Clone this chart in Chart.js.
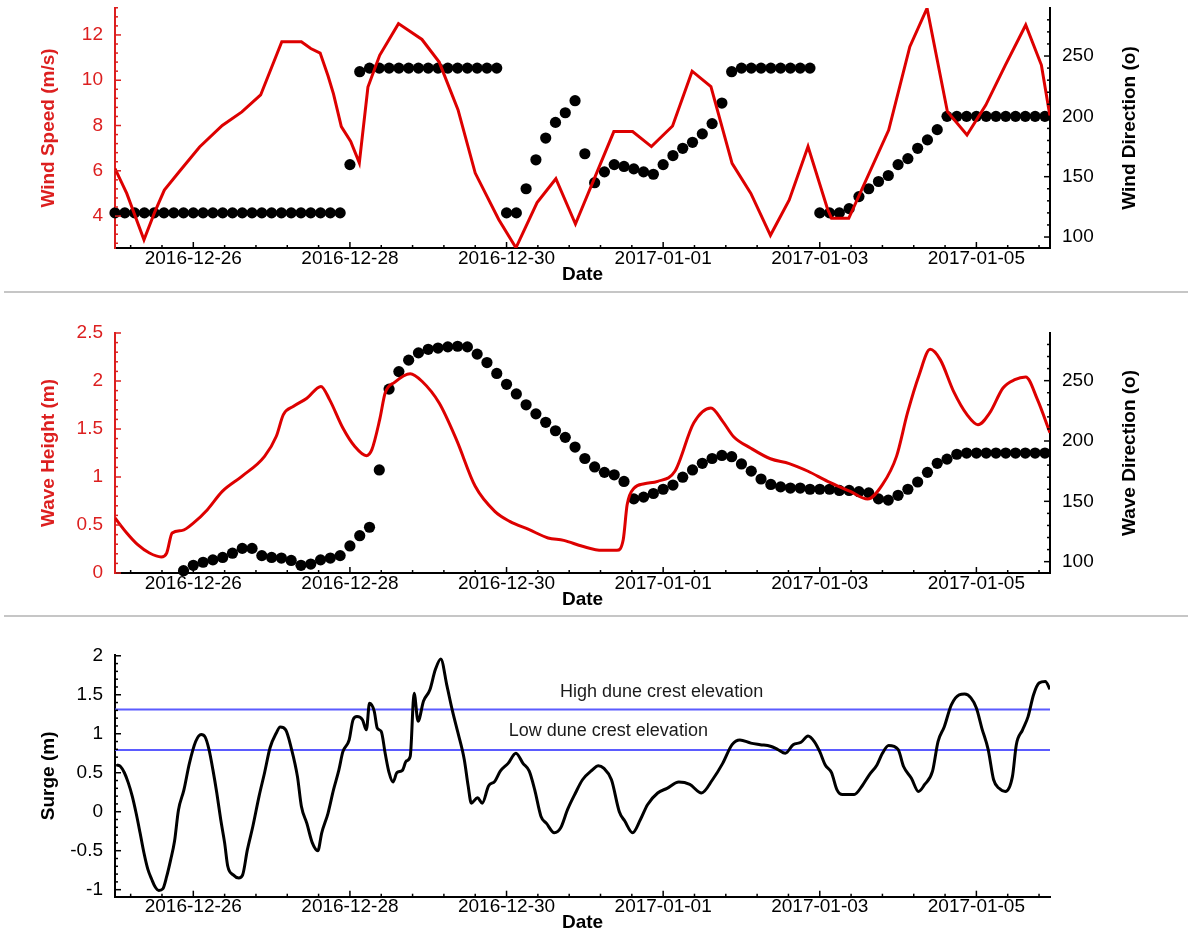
<!DOCTYPE html>
<html>
<head>
<meta charset="utf-8">
<title>Wind, waves and surge, 25 Dec 2016 – 6 Jan 2017</title>
<script src="https://cdn.jsdelivr.net/npm/chart.js@4.4.1/dist/chart.umd.min.js"></script>
<style>
  html, body { margin: 0; padding: 0; background: #fff; }
  body { width: 1188px; height: 934px; position: relative; overflow: hidden; }
  canvas { position: absolute; left: 0; }
  .sep { position: absolute; left: 4px; width: 1184px; height: 2px; background: #c6c6c6; }
</style>
</head>
<body>
<canvas id="windChart" width="1188" height="292" style="top:0px"></canvas>
<div class="sep" style="top:291px"></div>
<canvas id="waveChart" width="1188" height="325" style="top:292px"></canvas>
<div class="sep" style="top:615px"></div>
<canvas id="surgeChart" width="1188" height="317" style="top:617px"></canvas>
<script>
// Time axis: days since 2016-12-25 00:00
const X_MIN = 0;
const X_MAX = 11.94;
const dateTickDays = [1, 3, 5, 7, 9, 11];
const dateTickLabels = ['2016-12-26', '2016-12-28', '2016-12-30', '2017-01-01', '2017-01-03', '2017-01-05'];

// Wind speed (m/s)
const windSpeedDay = [0, 0.15, 0.37, 0.51, 0.63, 0.83, 1.08, 1.37, 1.62, 1.86, 2.13, 2.38, 2.5, 2.62, 2.72, 2.79,
  2.89, 3.01, 3.12, 3.23, 3.38, 3.62, 3.92, 4.14, 4.38, 4.6, 4.9, 5.12, 5.39, 5.63, 5.88, 6.37, 6.61, 6.85,
  7.12, 7.37, 7.61, 7.88, 8.12, 8.37, 8.61, 8.85, 9.1, 9.15, 9.37, 9.88, 10.15, 10.37, 10.63, 10.88, 11.12,
  11.37, 11.63, 11.83, 11.94];
const windSpeed = [6.1, 5.0, 2.95, 4.2, 5.15, 6.0, 7.05, 8.0, 8.6, 9.35, 11.7, 11.7, 11.4, 11.2, 10.2, 9.4,
  7.95, 7.3, 6.35, 9.7, 11.1, 12.5, 11.8, 10.8, 8.7, 5.9, 3.85, 2.6, 4.6, 5.65, 3.65, 7.73, 7.73, 7.07,
  7.98, 10.4, 9.72, 6.33, 5.0, 3.15, 4.71, 7.07, 4.3, 3.9, 3.9, 7.8, 11.48, 13.18, 8.61, 7.58, 8.9,
  10.67, 12.44, 10.67, 8.4];

// Wind direction (deg), 3-hourly from day 0, one row per day
const windDirStart = 0;
const windDirection = [
  120, 120, 120, 120, 120, 120, 120, 120,
  120, 120, 120, 120, 120, 120, 120, 120,
  120, 120, 120, 120, 120, 120, 120, 120,
  160, 237, 240, 240, 240, 240, 240, 240,
  240, 240, 240, 240, 240, 240, 240, 240,
  120, 120, 140, 164, 182, 195, 203, 213,
  169, 145, 154, 160, 158.5, 156.5, 154, 152,
  160, 167.5, 173.5, 178.5, 185.5, 194, 211, 237,
  240, 240, 240, 240, 240, 240, 240, 240,
  120, 120, 120, 123.5, 133.5, 140, 146, 151,
  160, 165, 173.5, 180.5, 189, 200, 200, 200,
  200, 200, 200, 200, 200, 200, 200, 200
];

// Significant wave height (m)
const waveHeightDay = [0, 0.15, 0.29, 0.44, 0.59, 0.66, 0.73, 0.86, 1.0, 1.18, 1.37, 1.62, 1.91, 2.06, 2.15,
  2.28, 2.45, 2.63, 2.74, 2.91, 3.06, 3.21, 3.28, 3.38, 3.45, 3.57, 3.77, 3.92, 4.14, 4.36, 4.6, 4.85, 5.04,
  5.29, 5.53, 5.73, 5.97, 6.22, 6.41, 6.49, 6.54, 6.63, 6.76, 6.93, 7.15, 7.39, 7.61, 7.76, 7.9, 8.12, 8.37,
  8.61, 8.85, 9.1, 9.39, 9.61, 9.8, 9.98, 10.12, 10.27, 10.41, 10.54, 10.71, 10.88, 11.02, 11.17, 11.34,
  11.49, 11.63, 11.78, 11.94];
const waveHeight = [0.573, 0.417, 0.295, 0.208, 0.167, 0.208, 0.417, 0.444, 0.52, 0.66, 0.85, 1.007, 1.215,
  1.424, 1.65, 1.736, 1.82, 1.944, 1.806, 1.51, 1.32, 1.222, 1.285, 1.597, 1.875, 1.986, 2.076, 1.997, 1.77,
  1.389, 0.903, 0.642, 0.538, 0.451, 0.365, 0.34, 0.278, 0.236, 0.236, 0.347, 0.71, 0.885, 0.93, 0.955,
  1.06, 1.5625, 1.72, 1.58, 1.42, 1.3, 1.19, 1.14, 1.06, 0.955, 0.85, 0.77, 0.92, 1.215, 1.667, 2.066, 2.33,
  2.22, 1.89, 1.65, 1.545, 1.667, 1.927, 2.014, 2.042, 1.806, 1.46];

// Wave direction (deg), 3-hourly from day 0.875
const waveDirStart = 0.875;
const waveDirection = [
  92.5,
  97, 99.5, 101.5, 103.5, 107, 111, 111, 105,
  103.5, 103, 101, 97, 98, 101.5, 103, 105,
  113, 121.5, 128.5, 176, 243, 257.5, 267, 273,
  276, 277, 278, 278.5, 278, 272, 265, 256,
  247, 239, 230, 222.5, 215.5, 208.5, 203, 195,
  185.5, 178.5, 174, 172, 166.5, 152, 153.5, 156.5,
  160, 163.5, 170, 176, 181.5, 185.5, 188, 187,
  181, 175, 168.5, 164, 162, 161, 161, 160,
  160, 160, 159, 159, 158, 157, 152, 151,
  155, 160, 166, 174, 181.5, 185, 189, 190,
  190, 190, 190, 190, 190, 190, 190, 190
];
const SAMPLE_STEP = 0.125; // 3 hours

// Surge (m)
const surgeDay = [0.02, 0.07, 0.12, 0.17, 0.22, 0.27, 0.32, 0.37, 0.42, 0.47, 0.51, 0.56, 0.61, 0.66, 0.71,
  0.76, 0.81, 0.88, 0.95, 1.03, 1.10, 1.15, 1.20, 1.25, 1.30, 1.35, 1.40, 1.44, 1.51, 1.58, 1.63, 1.69, 1.76,
  1.84, 1.91, 1.98, 2.06, 2.11, 2.18, 2.25, 2.33, 2.38, 2.45, 2.52, 2.59, 2.64, 2.72, 2.79, 2.86, 2.91, 2.99,
  3.04, 3.09, 3.16, 3.21, 3.25, 3.31, 3.35, 3.40, 3.45, 3.50, 3.55, 3.60, 3.67, 3.72, 3.77, 3.82, 3.87, 3.94,
  4.02, 4.09, 4.16, 4.24, 4.31, 4.38, 4.46, 4.51, 4.55, 4.63, 4.69, 4.77, 4.85, 4.92, 5.02, 5.12, 5.21, 5.29,
  5.36, 5.44, 5.51, 5.61, 5.69, 5.78, 5.88, 5.97, 6.10, 6.17, 6.24, 6.34, 6.44, 6.51, 6.61, 6.71, 6.80, 6.93,
  7.05, 7.20, 7.34, 7.49, 7.63, 7.76, 7.88, 7.98, 8.12, 8.24, 8.37, 8.46, 8.56, 8.66, 8.76, 8.85, 8.93, 9.00,
  9.07, 9.15, 9.22, 9.29, 9.44, 9.54, 9.63, 9.73, 9.80, 9.88, 10.00, 10.07, 10.17, 10.26, 10.34, 10.44, 10.51,
  10.59, 10.68, 10.78, 10.85, 10.93, 11.00, 11.07, 11.15, 11.22, 11.29, 11.37, 11.46, 11.51, 11.59, 11.66,
  11.73, 11.80, 11.88, 11.94];
const surge = [0.60, 0.58, 0.50, 0.37, 0.20, -0.02, -0.27, -0.53, -0.74, -0.87, -0.96, -1.01, -0.99, -0.83, -0.62,
  -0.38, 0.02, 0.28, 0.62, 0.90, 0.99, 0.96, 0.80, 0.54, 0.24, -0.10, -0.40, -0.70, -0.81, -0.85, -0.81, -0.49, -0.19,
  0.20, 0.50, 0.82, 1.01, 1.085, 1.05, 0.82, 0.45, 0.07, -0.15, -0.40, -0.50, -0.27, -0.02, 0.28, 0.54, 0.77, 0.92,
  1.18, 1.22, 1.18, 1.05, 1.39, 1.29, 1.07, 1.03, 0.75, 0.50, 0.38, 0.50, 0.53, 0.65, 0.71, 1.52, 1.16, 1.42,
  1.56, 1.82, 1.96, 1.61, 1.29, 1.01, 0.67, 0.33, 0.11, 0.18, 0.11, 0.33, 0.39, 0.52, 0.62, 0.75, 0.62, 0.52,
  0.28, -0.06, -0.15, -0.27, -0.21, 0.03, 0.24, 0.41, 0.54, 0.59, 0.56, 0.41, 0.00, -0.12, -0.27, -0.10, 0.09, 0.24,
  0.30, 0.38, 0.35, 0.24, 0.41, 0.62, 0.86, 0.92, 0.88, 0.86, 0.84, 0.80, 0.75, 0.86, 0.89, 0.97, 0.90, 0.77,
  0.60, 0.50, 0.28, 0.22, 0.22, 0.33, 0.47, 0.60, 0.75, 0.85, 0.80, 0.58, 0.43, 0.26, 0.35, 0.52, 0.90,
  1.09, 1.37, 1.50, 1.51, 1.46, 1.33, 1.07, 0.80, 0.41, 0.30, 0.26, 0.45, 0.86, 1.05, 1.22,
  1.50, 1.65, 1.67, 1.57];

// Dune crest elevations (m)
const highDuneCrest = 1.31;
const lowDuneCrest = 0.79;

// Axis tick values
const windSpeedTicks = [4, 6, 8, 10, 12];
const directionTicks = [100, 150, 200, 250];
const waveHeightTicks = [0, 0.5, 1, 1.5, 2, 2.5];
const surgeTicks = [-1, -0.5, 0, 0.5, 1, 1.5, 2];

// ---------------------------------------------------------------
const FONT = "'Liberation Sans', Arial, Helvetica, sans-serif";
Chart.defaults.font.family = FONT;
Chart.defaults.font.size = 19;
Chart.defaults.color = '#000';
Chart.defaults.animation = false;

const RED = '#dd0000';
const RED_TEXT = '#dc1f1f';
const BLUE = '#5b5bff';

const pairs = (xs, ys) => ys.map((y, i) => ({ x: xs[i], y }));
const sampled = (start, ys) => ys.map((y, i) => ({ x: start + i * SAMPLE_STEP, y }));
const range = (a, b, step) => {
  const out = [];
  for (let k = 0; a + k * step <= b + 1e-9; k++) out.push(+(a + k * step).toFixed(4));
  return out;
};
const without = (list, skip) => list.filter(v => !skip.some(s => Math.abs(s - v) < 1e-6));
const fixedTicks = values => scale => { scale.ticks = values.map(v => ({ value: v })); };
// keep tick-label overhang from pushing the plot area around
const noOverhang = s => { s.paddingTop = 0; s.paddingBottom = 0; s.paddingLeft = 0; s.paddingRight = 0; };

// Inward tick marks, right-hand axis titles and annotation text
const decor = {
  id: 'decor',
  afterDraw(chart, args, o) {
    const ctx = chart.ctx;
    const area = chart.chartArea;
    ctx.save();
    ctx.lineWidth = 1.5;
    (o.marks || []).forEach(m => {
      const s = chart.scales[m.scale];
      ctx.strokeStyle = m.color;
      const draw = (v, len) => {
        const p = s.getPixelForValue(v);
        ctx.beginPath();
        if (s.isHorizontal()) { ctx.moveTo(p, s.top); ctx.lineTo(p, s.top - len); }
        else if (s.position === 'left') { ctx.moveTo(s.right, p); ctx.lineTo(s.right + len, p); }
        else { ctx.moveTo(s.left, p); ctx.lineTo(s.left - len, p); }
        ctx.stroke();
      };
      m.major.forEach(v => draw(v, 6));
      m.minor.forEach(v => draw(v, 3));
    });
    if (o.rightTitle) {
      ctx.save();
      ctx.translate(o.rightTitle.x, (area.top + area.bottom) / 2);
      ctx.rotate(-Math.PI / 2);
      ctx.font = 'bold 19px ' + FONT;
      ctx.fillStyle = '#000';
      ctx.textAlign = 'center';
      ctx.textBaseline = 'middle';
      ctx.fillText(o.rightTitle.text, 0, 0);
      ctx.restore();
    }
    (o.notes || []).forEach(n => {
      ctx.font = '18px ' + FONT;
      ctx.fillStyle = '#1a1a1a';
      ctx.textAlign = 'center';
      ctx.textBaseline = 'middle';
      ctx.fillText(n.text, chart.scales.x.getPixelForValue(n.x), chart.scales.y.getPixelForValue(n.y) - n.dy);
    });
    ctx.restore();
  }
};

function xAxis(height, titlePad) {
  return {
    type: 'linear', position: 'bottom', min: X_MIN, max: X_MAX,
    afterFit: s => { s.height = height; noOverhang(s); },
    afterBuildTicks: fixedTicks(dateTickDays),
    grid: { display: true, drawOnChartArea: false, drawTicks: false },
    border: { display: true, color: '#000', width: 2 },
    ticks: { padding: -1, color: '#000', maxRotation: 0, autoSkip: false,
             callback: (v, i) => dateTickLabels[i] },
    title: { display: true, text: 'Date', color: '#000', font: { size: 19, weight: 'bold' },
             padding: { top: 0, bottom: titlePad } }
  };
}

function leftAxis(min, max, ticks, color, title) {
  return {
    type: 'linear', position: 'left', min, max,
    afterFit: s => { s.width = 115; noOverhang(s); },
    afterBuildTicks: fixedTicks(ticks),
    grid: { display: true, drawOnChartArea: false, drawTicks: false },
    border: { display: true, color, width: 2 },
    ticks: { padding: 12, color, autoSkip: false, callback: v => String(v) },
    title: { display: true, text: title, color, font: { size: 19, weight: 'bold' },
             padding: { top: 37.6, bottom: 0 } }
  };
}

function rightAxis(min, max) {
  return {
    type: 'linear', position: 'right', min, max,
    afterFit: s => { s.width = 138; noOverhang(s); },
    afterBuildTicks: fixedTicks(directionTicks),
    grid: { display: true, drawOnChartArea: false, drawTicks: false },
    border: { display: true, color: '#000', width: 2 },
    ticks: { padding: 12, color: '#000', autoSkip: false }
  };
}

const xMarks = { scale: 'x', color: '#000', major: dateTickDays,
                 minor: without(range(0.2, X_MAX, 0.4), dateTickDays) };
const dirMarks = { scale: 'y2', color: '#000', major: directionTicks,
                   minor: without(range(100, 280, 10), directionTicks) };

const common = {
  responsive: false,
  maintainAspectRatio: false,
  devicePixelRatio: 1,
  animation: false,
  events: []
};

// Panel 1: wind speed and direction
new Chart(document.getElementById('windChart'), {
  type: 'scatter',
  data: {
    datasets: [
      { label: 'Wind Speed', data: pairs(windSpeedDay, windSpeed), showLine: true, yAxisID: 'y',
        borderColor: RED, borderWidth: 3, pointRadius: 0, tension: 0, order: 1 },
      { label: 'Wind Direction', data: sampled(windDirStart, windDirection), yAxisID: 'y2',
        backgroundColor: '#000', borderColor: '#000', borderWidth: 0, pointRadius: 5.6, order: 2, clip: false }
    ]
  },
  options: Object.assign({}, common, {
    layout: { padding: { top: 8, left: 0, right: 0, bottom: 0 } },
    scales: {
      x: xAxis(44, 5.6),
      y: leftAxis(2.59, 13.19, windSpeedTicks, RED_TEXT, 'Wind Speed (m/s)'),
      y2: rightAxis(90.9, 289.8)
    },
    plugins: {
      legend: { display: false }, tooltip: { enabled: false },
      decor: {
        marks: [xMarks, dirMarks,
          { scale: 'y', color: RED_TEXT, major: windSpeedTicks, minor: without(range(2.8, 13.2, 0.4), windSpeedTicks) }],
        rightTitle: { text: 'Wind Direction (o)', x: 1130 }
      }
    }
  }),
  plugins: [decor]
});

// Panel 2: wave height and direction
new Chart(document.getElementById('waveChart'), {
  type: 'scatter',
  data: {
    datasets: [
      { label: 'Wave Height', data: pairs(waveHeightDay, waveHeight), showLine: true, yAxisID: 'y',
        borderColor: RED, borderWidth: 3, pointRadius: 0, cubicInterpolationMode: 'monotone', order: 1 },
      { label: 'Wave Direction', data: sampled(waveDirStart, waveDirection), yAxisID: 'y2',
        backgroundColor: '#000', borderColor: '#000', borderWidth: 0, pointRadius: 5.6, order: 2, clip: false }
    ]
  },
  options: Object.assign({}, common, {
    layout: { padding: { top: 41, left: 0, right: 0, bottom: 0 } },
    scales: {
      x: xAxis(44, 5.6),
      y: leftAxis(0, 2.5, waveHeightTicks, RED_TEXT, 'Wave Height (m)'),
      y2: rightAxis(90.6, 289.5)
    },
    plugins: {
      legend: { display: false }, tooltip: { enabled: false },
      decor: {
        marks: [xMarks, dirMarks,
          { scale: 'y', color: RED_TEXT, major: waveHeightTicks, minor: without(range(0, 2.5, 0.1), waveHeightTicks) }],
        rightTitle: { text: 'Wave Direction (o)', x: 1130 }
      }
    }
  }),
  plugins: [decor]
});

// Panel 3: surge with dune crest elevations
new Chart(document.getElementById('surgeChart'), {
  type: 'scatter',
  data: {
    datasets: [
      { label: 'Surge', data: pairs(surgeDay, surge), showLine: true, yAxisID: 'y',
        borderColor: '#000', borderWidth: 3, pointRadius: 0, cubicInterpolationMode: 'monotone', order: 1 },
      { label: 'High dune crest elevation', data: [{ x: X_MIN, y: highDuneCrest }, { x: X_MAX, y: highDuneCrest }],
        showLine: true, yAxisID: 'y', borderColor: BLUE, borderWidth: 2, pointRadius: 0, order: 2 },
      { label: 'Low dune crest elevation', data: [{ x: X_MIN, y: lowDuneCrest }, { x: X_MAX, y: lowDuneCrest }],
        showLine: true, yAxisID: 'y', borderColor: BLUE, borderWidth: 2, pointRadius: 0, order: 3 }
    ]
  },
  options: Object.assign({}, common, {
    layout: { padding: { top: 38, left: 0, right: 138, bottom: 0 } },
    scales: {
      x: xAxis(37.3, 0),
      y: leftAxis(-1.09, 2.01, surgeTicks, '#000', 'Surge (m)')
    },
    plugins: {
      legend: { display: false }, tooltip: { enabled: false },
      decor: {
        marks: [xMarks,
          { scale: 'y', color: '#000', major: surgeTicks, minor: without(range(-1, 2, 0.1), surgeTicks) }],
        notes: [
          { text: 'High dune crest elevation', x: 6.98, y: highDuneCrest, dy: 17.5 },
          { text: 'Low dune crest elevation', x: 6.3, y: lowDuneCrest, dy: 19.5 }
        ]
      }
    }
  }),
  plugins: [decor]
});
</script>
</body>
</html>
